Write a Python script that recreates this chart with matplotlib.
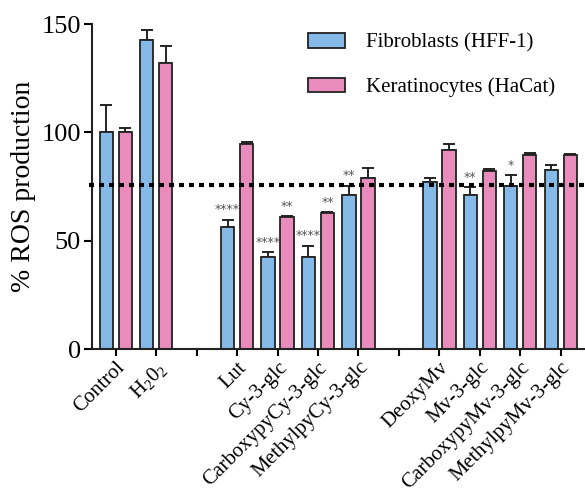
import matplotlib
matplotlib.use("Agg")
import matplotlib.pyplot as plt
import numpy as np

plt.rcParams['font.family'] = ['Liberation Serif', 'DejaVu Serif']
plt.rcParams['mathtext.fontset'] = 'custom'
plt.rcParams['mathtext.rm'] = 'Liberation Serif'
plt.rcParams['mathtext.it'] = 'Liberation Serif:italic'

# categories ('' = empty slot between groups)
categories = ['Control', 'H$_2$0$_2$', '', 'Lut', 'Cy-3-glc', 'CarboxypyCy-3-glc',
              'MethylpyCy-3-glc', '', 'DeoxyMv', 'Mv-3-glc', 'CarboxypyMv-3-glc',
              'MethylpyMv-3-glc']
fibro = [100, 142.9, np.nan, 56.3, 42.3, 42.6, 71.1, np.nan, 77.2, 71.2, 75.2, 82.5]
fibro_err = [12.9, 4.5, np.nan, 3.4, 2.5, 5.1, 4.3, np.nan, 1.7, 3.7, 5.1, 2.3]
kera = [100, 132.0, np.nan, 94.5, 60.8, 62.6, 78.9, np.nan, 91.8, 82.3, 89.5, 89.4]
kera_err = [2.1, 7.7, np.nan, 1.0, 0.6, 0.6, 4.6, np.nan, 2.7, 0.6, 0.8, 0.6]
fibro_sig = ['', '', '', '****', '****', '****', '**', '', '', '**', '*', '']
kera_sig = ['', '', '', '', '**', '**', '', '', '', '', '', '']
threshold = 75.8

blue = '#85b9e8'
pink = '#e98bbb'

fig = plt.figure(figsize=(5.85, 4.93), dpi=100)
ax = fig.add_axes([0.157, 0.292, 0.843, 0.659])

x = np.arange(len(categories))
w = 0.33
off = 0.235
ax.bar(x - off, fibro, w, color=blue, edgecolor='#222222', linewidth=1.3,
       label='Fibroblasts (HFF-1)', zorder=2)
ax.bar(x + off, kera, w, color=pink, edgecolor='#222222', linewidth=1.3,
       label='Keratinocytes (HaCat)', zorder=2)
ax.errorbar(x - off, fibro, yerr=[np.zeros(len(x)), fibro_err], fmt='none',
            ecolor='#222222', elinewidth=1.4, capsize=4, capthick=1.4, zorder=1)
ax.errorbar(x + off, kera, yerr=[np.zeros(len(x)), kera_err], fmt='none',
            ecolor='#222222', elinewidth=1.4, capsize=4, capthick=1.4, zorder=1)

for i in range(len(x)):
    if fibro_sig[i]:
        ax.text(x[i] - off, fibro[i] + fibro_err[i] + 1.5, fibro_sig[i], ha='center',
                va='bottom', fontsize=9, color='#555555', family='DejaVu Sans')
    if kera_sig[i]:
        ax.text(x[i] + off, kera[i] + kera_err[i] + 1.5, kera_sig[i], ha='center',
                va='bottom', fontsize=9, color='#555555', family='DejaVu Sans')

ax.axhline(threshold, color='black', linestyle=(0, (1.2, 1.2)), linewidth=3,
           zorder=3, clip_on=False, xmin=-0.005)

ax.set_xlim(-0.59, 11.6)
ax.set_ylim(0, 150)
ax.set_yticks([0, 50, 100, 150])
ax.set_xticks(x)
ax.set_xticklabels(categories, rotation=45, ha='right', rotation_mode='anchor',
                   fontsize=15)
ax.tick_params(axis='y', labelsize=19, length=6, width=1.5, pad=2)
ax.tick_params(axis='x', length=5, width=1.5, pad=1.5)
ax.set_ylabel('% ROS production', fontsize=20, labelpad=4)
for s in ['top', 'right']:
    ax.spines[s].set_visible(False)
for s in ['left', 'bottom']:
    ax.spines[s].set_linewidth(1.5)
    ax.spines[s].set_color('#222222')

ax.legend(loc='upper left', bbox_to_anchor=(0.40, 1.03), frameon=False,
          fontsize=15, handlelength=1.8, handleheight=0.7, labelspacing=1.2,
          handletextpad=1.0)

fig.savefig('out.png', dpi=100)
